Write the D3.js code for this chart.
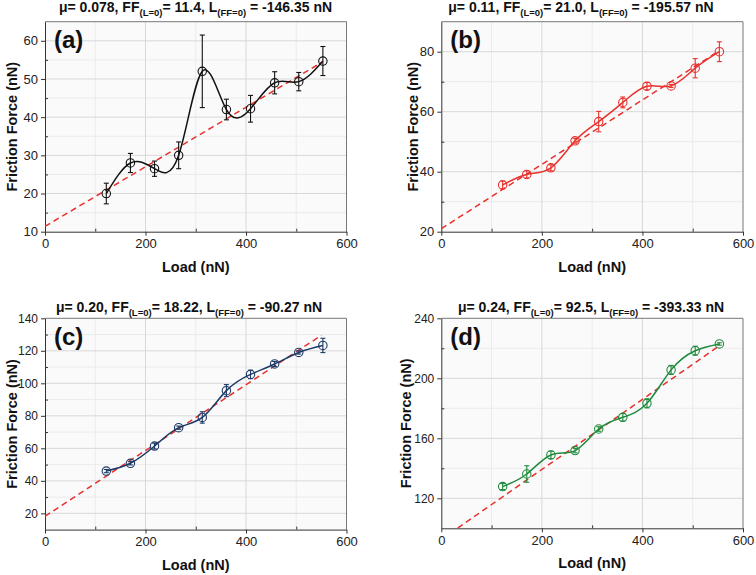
<!DOCTYPE html>
<html><head><meta charset="utf-8">
<script src="https://cdn.jsdelivr.net/npm/d3@7"></script>
<style>body{margin:0;background:#fff}svg{display:block}text{font-family:"Liberation Sans",Arial,sans-serif}</style>
</head><body><svg id="c" width="756" height="575"></svg>
<script>
// ---- data ----
const loads = [122, 170, 218, 266, 313, 361, 409, 457, 505, 553];
const ffA  = [20, 28, 26.5, 30, 52, 42, 42.2, 49, 49.3, 54.7];
const errA = [2.7, 2.5, 2, 3.5, 9.5, 2.7, 3.5, 2.9, 2.4, 3.8];
const ffB  = [35.6, 39.1, 41.3, 50.3, 56.7, 63.1, 68.5, 68.6, 74.5, 80];
const errB = [1.3, 1.2, 1, 0.8, 3.4, 1.8, 1.2, 0.5, 3.2, 3.3];
const ffC  = [46, 50.8, 61.4, 72.7, 79, 95.5, 105.5, 111.9, 119, 123.3];
const errC = [1, 1, 1.8, 1, 3.5, 3.7, 2.6, 1.5, 1, 4.4];
const ffD  = [127.8, 136.2, 148.9, 151.8, 166.2, 174, 183.3, 205.6, 218.4, 222.9];
const errD = [2, 5.5, 2.5, 1.5, 1.5, 2.5, 3, 3, 3, 0.8];
const fitX = [0, 550];
const fitA = [11.4, 54.3];
const fitB = [21.0, 80.0];
const fitC = [18.2, 129.5];
const fitD = [92.5, 221];
const xTicks = [0, 200, 400, 600];
const xMinor = [100, 300, 500];
const yTicksA = [10, 20, 30, 40, 50, 60],   yMinorA = [15, 25, 35, 45, 55, 65];
const yTicksB = [20, 40, 60, 80],           yMinorB = [30, 50, 70, 90];
const yTicksC = [20, 40, 60, 80, 100, 120, 140], yMinorC = [10, 30, 50, 70, 90, 110, 130];
const yTicksD = [120, 160, 200, 240],       yMinorD = [100, 140, 180, 220];
const titleA = ["μ= 0.078, FF", "(L=0)", "= 11.4, L", "(FF=0)", " = -146.35 nN"];
const titleB = ["μ= 0.11, FF", "(L=0)", "= 21.0, L", "(FF=0)", " = -195.57 nN"];
const titleC = ["μ= 0.20, FF", "(L=0)", "= 18.22, L", "(FF=0)", " = -90.27 nN"];
const titleD = ["μ= 0.24, FF", "(L=0)", "= 92.5, L", "(FF=0)", " = -393.33 nN"];
const labels = ["(a)", "(b)", "(c)", "(d)"];

// ---- layout ----
const panels = [
  {ff: ffA, err: errA, fit: fitA, yd: [10, 65], yt: yTicksA, ym: yMinorA, title: titleA, lab: labels[0],
   color: "#111", L: 45, R: 346.5, T: 21.7, B: 231.7, tx: 195.5, ty: 12, ylx: 33, yfs: 13},
  {ff: ffB, err: errB, fit: fitB, yd: [20, 90], yt: yTicksB, ym: yMinorB, title: titleB, lab: labels[1],
   color: "#e8302c", L: 441.3, R: 743, T: 21.7, B: 231.7, tx: 581, ty: 12, ylx: 28.5, yfs: 13},
  {ff: ffC, err: errC, fit: fitC, yd: [10, 140], yt: yTicksC, ym: yMinorC, title: titleC, lab: labels[2],
   color: "#1d3a66", L: 45, R: 346.5, T: 318.3, B: 529.6, tx: 189, ty: 312, ylx: 33.5, yfs: 12},
  {ff: ffD, err: errD, fit: fitD, yd: [100, 240], yt: yTicksD, ym: yMinorD, title: titleD, lab: labels[3],
   color: "#1f8a3c", L: 441.3, R: 743, T: 318.3, B: 528.3, tx: 591, ty: 312, ylx: 35.5, yfs: 12}
];

const svg = d3.select("#c");
panels.forEach((p, i) => {
  const x = d3.scaleLinear().domain([0, 600]).range([p.L, p.R]);
  const y = d3.scaleLinear().domain(p.yd).range([p.B, p.T]);
  const g = svg.append("g");
  const cid = "clip" + i;
  svg.append("clipPath").attr("id", cid).append("rect")
    .attr("x", p.L).attr("y", p.T).attr("width", p.R - p.L).attr("height", p.B - p.T);
  g.append("rect").attr("x", p.L).attr("y", p.T).attr("width", p.R - p.L).attr("height", p.B - p.T)
    .attr("fill", "#fafafa");
  // grid
  const grid = g.append("g");
  grid.selectAll(".vm").data(xMinor).join("line").attr("x1", d => x(d)).attr("x2", d => x(d))
    .attr("y1", p.T).attr("y2", p.B).attr("stroke", "#ebebeb").attr("stroke-width", 1);
  grid.selectAll(".hm").data(p.ym.filter(v => v > p.yd[0] && v < p.yd[1])).join("line")
    .attr("x1", p.L).attr("x2", p.R).attr("y1", d => y(d)).attr("y2", d => y(d))
    .attr("stroke", "#ebebeb").attr("stroke-width", 1);
  grid.selectAll(".vM").data(xTicks.slice(1, -1)).join("line").attr("x1", d => x(d)).attr("x2", d => x(d))
    .attr("y1", p.T).attr("y2", p.B).attr("stroke", "#d8d8d8").attr("stroke-width", 1);
  grid.selectAll(".hM").data(p.yt.filter(v => v > p.yd[0] && v < p.yd[1])).join("line")
    .attr("x1", p.L).attr("x2", p.R).attr("y1", d => y(d)).attr("y2", d => y(d))
    .attr("stroke", "#d8d8d8").attr("stroke-width", 1);
  // frame top/right
  g.append("path").attr("d", `M${p.L},${p.T}H${p.R}V${p.B}`).attr("fill", "none")
    .attr("stroke", "#777").attr("stroke-width", 1);

  // axes
  g.append("g").attr("transform", `translate(0,${p.B})`)
    .call(d3.axisBottom(x).tickValues(xTicks).tickSize(4).tickSizeOuter(0).tickPadding(3))
    .call(s => s.selectAll(".tick text").attr("font-size", 13));
  g.append("g").attr("transform", `translate(0,${p.B})`)
    .call(d3.axisBottom(x).tickValues(xMinor).tickSize(-3).tickSizeOuter(0).tickFormat(""))
    .call(s => s.select(".domain").remove());
  g.append("g").attr("transform", `translate(${p.L},0)`)
    .call(d3.axisLeft(y).tickValues(p.yt).tickSize(4).tickSizeOuter(0).tickPadding(3))
    .call(s => s.selectAll(".tick text").attr("font-size", p.yfs));
  g.append("g").attr("transform", `translate(${p.L},0)`)
    .call(d3.axisLeft(y).tickValues(p.ym.filter(v => v > p.yd[0] && v < p.yd[1])).tickSize(-3).tickSizeOuter(0).tickFormat(""))
    .call(s => s.select(".domain").remove());
  g.selectAll(".domain, .tick line").attr("stroke", "#333");
  g.selectAll(".tick text").attr("fill", "#222")
    .attr("font-family", '"Liberation Sans",Arial,sans-serif');

  // fit line
  const fitData = fitX.map((v, k) => [v, p.fit[k]]);
  g.append("path").attr("clip-path", `url(#${cid})`)
    .attr("d", d3.line().x(d => x(d[0])).y(d => y(d[1]))(fitData))
    .attr("fill", "none").attr("stroke", "#e8302c").attr("stroke-width", 1.5)
    .attr("stroke-dasharray", "6,4");

  // spline
  const pts = loads.map((v, k) => [v, p.ff[k], p.err[k]]);
  g.append("path").attr("d", d3.line().curve(d3.curveNatural).x(d => x(d[0])).y(d => y(d[1]))(pts))
    .attr("fill", "none").attr("stroke", p.color).attr("stroke-width", 1.5);
  // error bars
  const eb = g.append("g").attr("stroke", p.color).attr("stroke-width", 1.1);
  pts.forEach(d => {
    const cx = x(d[0]), y1 = y(d[1] - d[2]), y2 = y(d[1] + d[2]);
    eb.append("line").attr("x1", cx).attr("x2", cx).attr("y1", y1).attr("y2", y2);
    eb.append("line").attr("x1", cx - 2.5).attr("x2", cx + 2.5).attr("y1", y1).attr("y2", y1);
    eb.append("line").attr("x1", cx - 2.5).attr("x2", cx + 2.5).attr("y1", y2).attr("y2", y2);
  });
  g.selectAll(".pt").data(pts).join("circle").attr("cx", d => x(d[0])).attr("cy", d => y(d[1]))
    .attr("r", 4.2).attr("fill", "none").attr("stroke", p.color).attr("stroke-width", 1.1);

  // panel label
  g.append("text").attr("x", p.L + 9).attr("y", p.T + 26.5).attr("font-size", 24)
    .attr("font-weight", "bold").attr("fill", "#111").text(p.lab);

  // title
  const t = g.append("text").attr("x", p.tx).attr("y", p.ty).attr("text-anchor", "middle")
    .attr("font-size", 14).attr("font-weight", "bold").attr("fill", "#111");
  t.append("tspan").text(p.title[0]);
  t.append("tspan").attr("font-size", 9.5).attr("dy", 4).text(p.title[1]);
  t.append("tspan").attr("dy", -4).text(p.title[2]);
  t.append("tspan").attr("font-size", 9.5).attr("dy", 4).text(p.title[3]);
  t.append("tspan").attr("dy", -4).text(p.title[4]);

  // axis labels
  g.append("text").attr("x", (p.L + p.R) / 2).attr("y", p.B + 40).attr("text-anchor", "middle")
    .attr("font-size", 14.5).attr("font-weight", "bold").attr("fill", "#111").text("Load (nN)");
  g.append("text").attr("transform", `translate(${p.L - p.ylx},${(p.T + p.B) / 2}) rotate(-90)`)
    .attr("text-anchor", "middle").attr("dy", "0.35em")
    .attr("font-size", 14.5).attr("font-weight", "bold").attr("fill", "#111").text("Friction Force (nN)");
});
</script></body></html>
